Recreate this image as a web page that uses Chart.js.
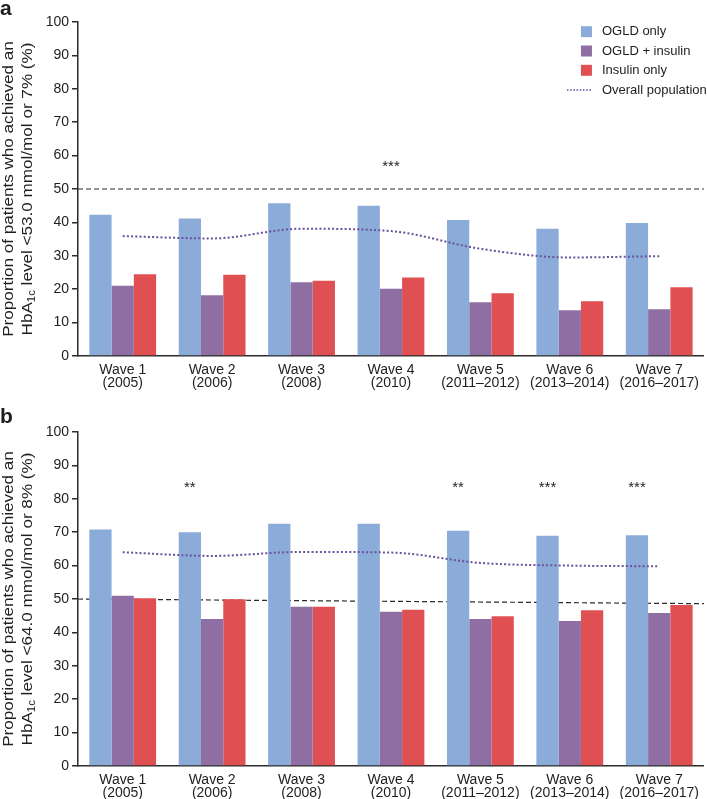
<!DOCTYPE html>
<html>
<head>
<meta charset="utf-8">
<script src="https://cdn.jsdelivr.net/npm/chart.js@4.4.1/dist/chart.umd.min.js"></script>
<style>
  html, body { margin: 0; padding: 0; background: #fff; overflow: hidden; }
  #wrap { position: relative; width: 707px; height: 799px; }
  canvas { position: absolute; left: 0; }
  #chartA { top: 0; }
  #chartB { top: 400px; }
</style>
</head>
<body>
<div id="wrap">
  <canvas id="chartA" width="707" height="400"></canvas>
  <canvas id="chartB" width="707" height="400"></canvas>
</div>
<script>
'use strict';

const waves = [
  ['Wave 1', '(2005)'], ['Wave 2', '(2006)'], ['Wave 3', '(2008)'], ['Wave 4', '(2010)'],
  ['Wave 5', '(2011–2012)'], ['Wave 6', '(2013–2014)'], ['Wave 7', '(2016–2017)'],
];
const yTicks = [0, 10, 20, 30, 40, 50, 60, 70, 80, 90, 100];

// panel a: HbA1c < 53.0 mmol/mol (7%)
const ogldOnlyA = [42.3, 41.2, 45.7, 45.0, 40.7, 38.1, 39.8];
const ogldInsulinA = [21.0, 18.2, 22.1, 20.1, 16.1, 13.7, 14.0];
const insulinOnlyA = [24.5, 24.3, 22.5, 23.5, 18.8, 16.4, 20.6];
const overallA = [35.9, 35.2, 38.1, 37.4, 32.1, 29.5, 29.9];
const refLineA = [50, 50];
const starsA = ['', '', '', '***', '', '', ''];
const starLevelA = 57.8;

// panel b: HbA1c < 64.0 mmol/mol (8%)
const ogldOnlyB = [70.8, 70.0, 72.5, 72.5, 70.4, 68.9, 69.1];
const ogldInsulinB = [51.0, 44.0, 47.7, 46.2, 44.0, 43.4, 45.8];
const insulinOnlyB = [50.2, 49.9, 47.7, 46.8, 44.8, 46.6, 48.2];
const overallB = [64.0, 62.9, 64.1, 63.9, 60.8, 60.0, 59.8];
const refLineB = [50, 48.6];
const starsB = ['', '**', '', '', '**', '***', '***'];
const starLevelB = 84.6;

const seriesNames = ['OGLD only', 'OGLD + insulin', 'Insulin only', 'Overall population'];
const BLUE = '#8babd8';
const PURPLE = '#8f6ea3';
const RED = '#e05053';
const LINE = '#6a519d';
const INK = '#1e1e1e';
const AXIS = '#2b2b2b';
const FONT = '"Liberation Sans", Arial, sans-serif';

// dashed reference line, behind the bars
const refLinePlugin = {
  id: 'refLine',
  beforeDatasetsDraw(chart, args, opts) {
    const {ctx, chartArea, scales: {y}} = chart;
    ctx.save();
    ctx.strokeStyle = AXIS;
    ctx.lineWidth = 1.2;
    ctx.setLineDash([5, 3]);
    ctx.beginPath();
    ctx.moveTo(chartArea.left, y.getPixelForValue(opts.values[0]));
    ctx.lineTo(chartArea.right, y.getPixelForValue(opts.values[1]));
    ctx.stroke();
    ctx.restore();
  },
};

// significance stars, panel label, y title with subscript, legend
const decorPlugin = {
  id: 'decor',
  afterDraw(chart, args, opts) {
    const {ctx, chartArea, scales: {x, y}} = chart;
    ctx.save();
    // stars
    ctx.fillStyle = INK;
    ctx.font = '15px ' + FONT;
    ctx.textAlign = 'center';
    ctx.textBaseline = 'alphabetic';
    const blueBars = chart.getDatasetMeta(0).data;
    opts.stars.forEach((s, i) => {
      if (!s) return;
      const px = opts.starOnBar ? blueBars[i].x : x.getPixelForValue(i);
      ctx.fillText(s, px, y.getPixelForValue(opts.starLevel) + 8.5);
    });
    // panel label
    ctx.font = 'bold 21px ' + FONT;
    ctx.textAlign = 'left';
    ctx.fillText(opts.panel, 0, opts.panelY);
    // y title, stretched a little along the text like the source figure
    const cy = (chartArea.top + chartArea.bottom) / 2;
    ctx.translate(0, cy);
    ctx.rotate(-Math.PI / 2);
    ctx.scale(1.14, 1);
    ctx.textAlign = 'left';
    const big = '15px ' + FONT;
    const small = '10px ' + FONT;
    ctx.font = big;
    const l1 = 'Proportion of patients who achieved an';
    ctx.fillText(l1, -ctx.measureText(l1).width / 2, 13);
    const parts = [['HbA', big, 0], ['1c', small, 3], [' level <' + opts.level, big, 0]];
    let total = 0;
    parts.forEach(p => { ctx.font = p[1]; total += ctx.measureText(p[0]).width; });
    let cx = -total / 2;
    parts.forEach(p => {
      ctx.font = p[1];
      ctx.fillText(p[0], cx, 32 + p[2]);
      cx += ctx.measureText(p[0]).width;
    });
    ctx.restore();

    if (!opts.legend) return;
    ctx.save();
    ctx.font = '13px ' + FONT;
    ctx.textBaseline = 'middle';
    ctx.fillStyle = INK;
    const lx = chartArea.right - 123;
    const rows = [9.7, 29, 48.3, 68];
    chart.data.datasets.forEach((ds, i) => {
      const ry = chartArea.top + rows[i];
      if (ds.type === 'line') {
        ctx.strokeStyle = ds.borderColor;
        ctx.lineWidth = 1.6;
        ctx.setLineDash([1.6, 1.6]);
        ctx.beginPath();
        ctx.moveTo(lx - 14, ry);
        ctx.lineTo(lx + 11, ry);
        ctx.stroke();
        ctx.setLineDash([]);
      } else {
        ctx.fillStyle = ds.backgroundColor;
        ctx.fillRect(lx, ry - 5.5, 11, 11);
      }
      ctx.fillStyle = INK;
      ctx.fillText(ds.label, lx + 21, ry);
    });
    ctx.restore();
  },
};

function buildChart(canvas, series, cfg) {
  const datasets = [
    {type: 'line', label: seriesNames[3], data: series[3], borderColor: LINE, borderWidth: 2,
      borderDash: [2, 2.2], pointRadius: 0, fill: false, cubicInterpolationMode: 'monotone', order: 0},
    {label: seriesNames[0], data: series[0], backgroundColor: BLUE, order: 1},
    {label: seriesNames[1], data: series[1], backgroundColor: PURPLE, order: 1},
    {label: seriesNames[2], data: series[2], backgroundColor: RED, order: 1},
  ];
  // bars first in the legend, line last
  datasets.push(datasets.shift());

  return new Chart(canvas, {
    type: 'bar',
    data: {labels: waves, datasets},
    options: {
      responsive: false,
      animation: false,
      layout: {padding: {left: 0, right: 1, top: cfg.top, bottom: 0}},
      datasets: {bar: {categoryPercentage: 0.747, barPercentage: 1.0}},
      plugins: {
        legend: {display: false},
        tooltip: {enabled: false},
        refLine: {values: cfg.ref},
        decor: cfg.decor,
      },
      scales: {
        x: {
          grid: {display: false, drawTicks: false},
          border: {display: true, color: AXIS, width: 1.5},
          ticks: {color: INK, padding: 8, maxRotation: 0, font: {family: FONT, size: 14, lineHeight: 0.9}},
          afterFit(scale) { scale.height = cfg.xHeight; },
        },
        y: {
          min: 0,
          max: 100,
          afterBuildTicks(scale) { scale.ticks = yTicks.map(v => ({value: v})); },
          grid: {drawOnChartArea: false, drawTicks: true, tickLength: 6, color: AXIS, lineWidth: 1.5},
          border: {display: true, color: AXIS, width: 1.5},
          ticks: {color: INK, padding: 3, font: {family: FONT, size: 14}},
          afterFit(scale) { scale.width = 78; },
        },
      },
    },
    plugins: [refLinePlugin, decorPlugin],
  });
}

buildChart(document.getElementById('chartA'),
  [ogldOnlyA, ogldInsulinA, insulinOnlyA, overallA],
  {top: 22, xHeight: 44, ref: refLineA,
    decor: {stars: starsA, starLevel: starLevelA, starOnBar: false, panel: 'a', panelY: 15,
      level: '53.0 mmol/mol or 7% (%)', legend: true}});

buildChart(document.getElementById('chartB'),
  [ogldOnlyB, ogldInsulinB, insulinOnlyB, overallB],
  {top: 32, xHeight: 34, ref: refLineB,
    decor: {stars: starsB, starLevel: starLevelB, starOnBar: true, panel: 'b', panelY: 23,
      level: '64.0 mmol/mol or 8% (%)', legend: false}});
</script>
</body>
</html>
